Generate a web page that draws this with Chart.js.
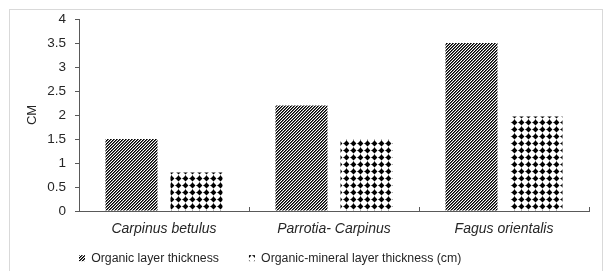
<!DOCTYPE html>
<html>
<head>
<meta charset="utf-8">
<script src="https://cdn.jsdelivr.net/npm/chart.js@4.4.0/dist/chart.umd.min.js"></script>
<style>
  html, body { margin: 0; padding: 0; background: #fff; }
  #wrap { position: relative; width: 604px; height: 271px; }
  #frame { position: absolute; left: 9px; top: 9px; width: 594px; height: 270px; border: 1px solid #d9d9d9; box-sizing: border-box; }
  #box { position: absolute; left: 0; top: 0; width: 604px; height: 271px; }
</style>
</head>
<body>
<div id="wrap">
  <div id="frame"></div>
  <div id="box"><canvas id="myChart"></canvas></div>
</div>
<script>
const categories = ['Carpinus betulus', 'Parrotia- Carpinus', 'Fagus orientalis'];
const organicLayer = [1.5, 2.2, 3.5];
const organicMineralLayer = [0.8, 1.5, 1.97];
const seriesLabels = ['Organic layer thickness', 'Organic-mineral layer thickness (cm)'];
const yTickValues = [0, 0.5, 1, 1.5, 2, 2.5, 3, 3.5, 4];
const yTitle = 'CM';

const FONT = '"Liberation Sans", Arial, sans-serif';
const axisColor = '#595959';
const textColor = '#262626';

// fine diagonal hatch
function hatchPattern() {
  const c = document.createElement('canvas');
  c.width = 3; c.height = 3;
  const g = c.getContext('2d');
  const shades = ['#000', '#5a5a5a', '#fff'];
  for (let y = 0; y < 3; y++) {
    for (let x = 0; x < 3; x++) {
      g.fillStyle = shades[(x + y) % 3];
      g.fillRect(x, y, 1, 1);
    }
  }
  return g.createPattern(c, 'repeat');
}

// black diamonds on white
function diamondPattern() {
  const c = document.createElement('canvas');
  c.width = 7; c.height = 7;
  const g = c.getContext('2d');
  g.fillStyle = '#fff';
  g.fillRect(0, 0, 7, 7);
  g.fillStyle = '#000';
  g.beginPath();
  g.moveTo(3.5, 0.6);
  g.lineTo(6.4, 3.5);
  g.lineTo(3.5, 6.4);
  g.lineTo(0.6, 3.5);
  g.closePath();
  g.fill();
  g.fillStyle = '#666';
  g.fillRect(0, 3, 1, 1);
  g.fillRect(3, 0, 1, 1);
  return g.createPattern(c, 'repeat');
}

// move the legend to where the original has it
const legendPlace = {
  id: 'legendPlace',
  afterLayout(chart) {
    const lg = chart.legend;
    if (!lg) return;
    lg.left = 49;
    lg.top = 222;
  }
};

const ctx = document.getElementById('myChart').getContext('2d');

const myChart = new Chart(ctx, {
  type: 'bar',
  data: {
    labels: categories,
    datasets: [
      {
        label: seriesLabels[0],
        data: organicLayer,
        backgroundColor: hatchPattern(),
        borderWidth: 0,
      },
      {
        label: seriesLabels[1],
        data: organicMineralLayer,
        backgroundColor: diamondPattern(),
        borderWidth: 0,
      }
    ]
  },
  plugins: [legendPlace],
  options: {
    responsive: true,
    maintainAspectRatio: false,
    animation: false,
    datasets: {
      bar: {
        barPercentage: 0.8,
        categoryPercentage: 0.765,
      }
    },
    layout: {
      padding: { left: 9, right: 15, top: 19, bottom: 0 }
    },
    scales: {
      x: {
        grid: {
          display: true,
          drawOnChartArea: false,
          tickLength: -4,
          color: axisColor,
          offset: true,
        },
        border: { color: axisColor, width: 1 },
        ticks: {
          font: { family: FONT, size: 14, style: 'italic' },
          color: textColor,
          padding: 14,
        },
        afterFit: (scale) => { scale.height = 25; },
      },
      y: {
        min: 0,
        max: 4,
        afterBuildTicks: (axis) => {
          axis.ticks = yTickValues.map(v => ({ value: v }));
        },
        grid: {
          drawOnChartArea: false,
          tickLength: 4,
          color: axisColor,
        },
        border: { color: axisColor, width: 1 },
        ticks: {
          font: { family: FONT, size: 13.5 },
          color: textColor,
          padding: 9,
          callback: (value) => `${value}`,
        },
        title: {
          display: true,
          text: yTitle,
          font: { family: FONT, size: 13 },
          color: textColor,
          padding: { top: 16, bottom: 0 },
        },
        afterFit: (scale) => { scale.width = 70; },
      }
    },
    plugins: {
      tooltip: { enabled: false },
      legend: {
        position: 'bottom',
        align: 'start',
        maxHeight: 35,
        labels: {
          boxWidth: 6,
          boxHeight: 6,
          padding: 30,
          color: textColor,
          font: { family: FONT, size: 12.3 },
        }
      }
    }
  }
});
</script>
</body>
</html>
